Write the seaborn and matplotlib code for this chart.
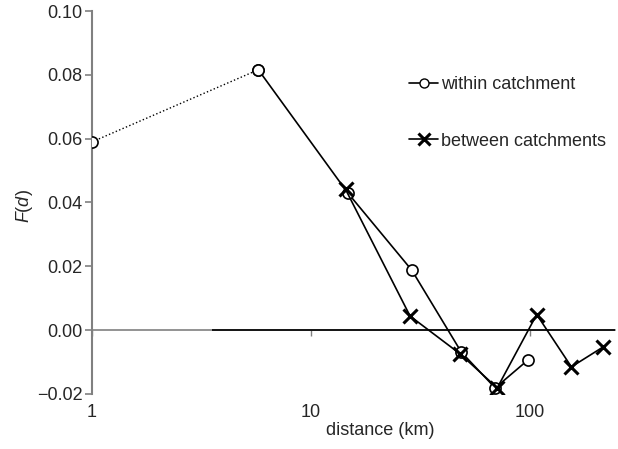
import pandas as pd
import matplotlib
matplotlib.use('Agg')
import matplotlib.pyplot as plt
import seaborn as sns
from matplotlib.lines import Line2D

# values
within_km = [1.0, 5.75, 14.7, 28.9, 48.7, 69.5, 97.9]
within_fd = [0.059, 0.0816, 0.0431, 0.0188, -0.0069, -0.0181, -0.0094]
between_km = [14.4, 28.4, 48.2, 71.0, 107.6, 155.0, 216.0]
between_fd = [0.0441, 0.0044, -0.0075, -0.0181, 0.0049, -0.0115, -0.0053]
x_ticks = [1, 10, 100]
y_ticks = [-0.02, 0.00, 0.02, 0.04, 0.06, 0.08, 0.10]

sns.set_style('white')
plt.rcParams['font.family'] = ['Liberation Sans', 'DejaVu Sans']
plt.rcParams['mathtext.fontset'] = 'custom'
plt.rcParams['mathtext.it'] = 'Liberation Sans:italic'
plt.rcParams['mathtext.rm'] = 'Liberation Sans'

within = pd.DataFrame({'km': within_km, 'fd': within_fd})
between = pd.DataFrame({'km': between_km, 'fd': between_fd})

fig = plt.figure(figsize=(6.18, 4.49), dpi=100)
ax = fig.add_axes([0.149, 0.1225, 0.846, 0.853])

grey = '#808080'
circ = dict(marker='o', markersize=8, markerfacecolor='white',
            markeredgecolor='black', markeredgewidth=1.2)

# dotted link to the first distance class
sns.lineplot(data=within.iloc[:2], x='km', y='fd', ax=ax, color='black',
             linestyle=':', linewidth=1.0, sort=False, zorder=4, **circ)
sns.lineplot(data=within.iloc[1:], x='km', y='fd', ax=ax, color='black',
             linewidth=1.2, sort=False, zorder=4, **circ)
sns.lineplot(data=between, x='km', y='fd', ax=ax, color='black',
             linewidth=1.2, sort=False, marker='x', markersize=10,
             markeredgewidth=2.2, markeredgecolor='black', zorder=5)

ax.set_xscale('log')
ax.set_xlim(1, 245)
ax.set_ylim(-0.02, 0.10)
ax.set_xticks(x_ticks)
ax.set_xticklabels([str(t) for t in x_ticks])
ax.minorticks_off()
ax.set_yticks(y_ticks)
ax.set_yticklabels(['\u22120.02'] + ['%.2f' % t for t in y_ticks[1:]])

ax.hlines(0, 3.53, 245, color='black', linewidth=1.2, zorder=3)

for s in ['top', 'right']:
    ax.spines[s].set_visible(False)
ax.spines['left'].set_color(grey)
ax.spines['left'].set_linewidth(1.5)
ax.spines['bottom'].set_position(('data', 0))
ax.spines['bottom'].set_color(grey)
ax.spines['bottom'].set_linewidth(1.2)

ax.tick_params(axis='y', direction='out', length=5, width=1.2, color=grey,
               labelsize=13, pad=2, left=True)
ax.tick_params(axis='x', direction='out', length=4, width=1.0, color=grey,
               labelsize=13, pad=49, bottom=True)

ax.set_xlabel('distance (km)', fontsize=13)
ax.xaxis.set_label_coords(0.551, -0.073)
ax.set_ylabel('$F$($d$)', fontsize=13)
ax.yaxis.set_label_coords(-0.11, 0.49)

handles = [
    Line2D([], [], color='black', linewidth=1.2, marker='o', markersize=6.5,
           markerfacecolor='white', markeredgecolor='black'),
    Line2D([], [], color='black', linewidth=1.2, marker='x', markersize=9,
           markeredgewidth=2.2),
]
ax.legend(handles, ['within catchment', 'between catchments'], frameon=False,
          loc='upper left', bbox_to_anchor=(0.636, 0.866),
          bbox_transform=fig.transFigure, fontsize=13, handlelength=1.6,
          handletextpad=0.15, labelspacing=2.18)

fig.savefig('out.png', dpi=100)
